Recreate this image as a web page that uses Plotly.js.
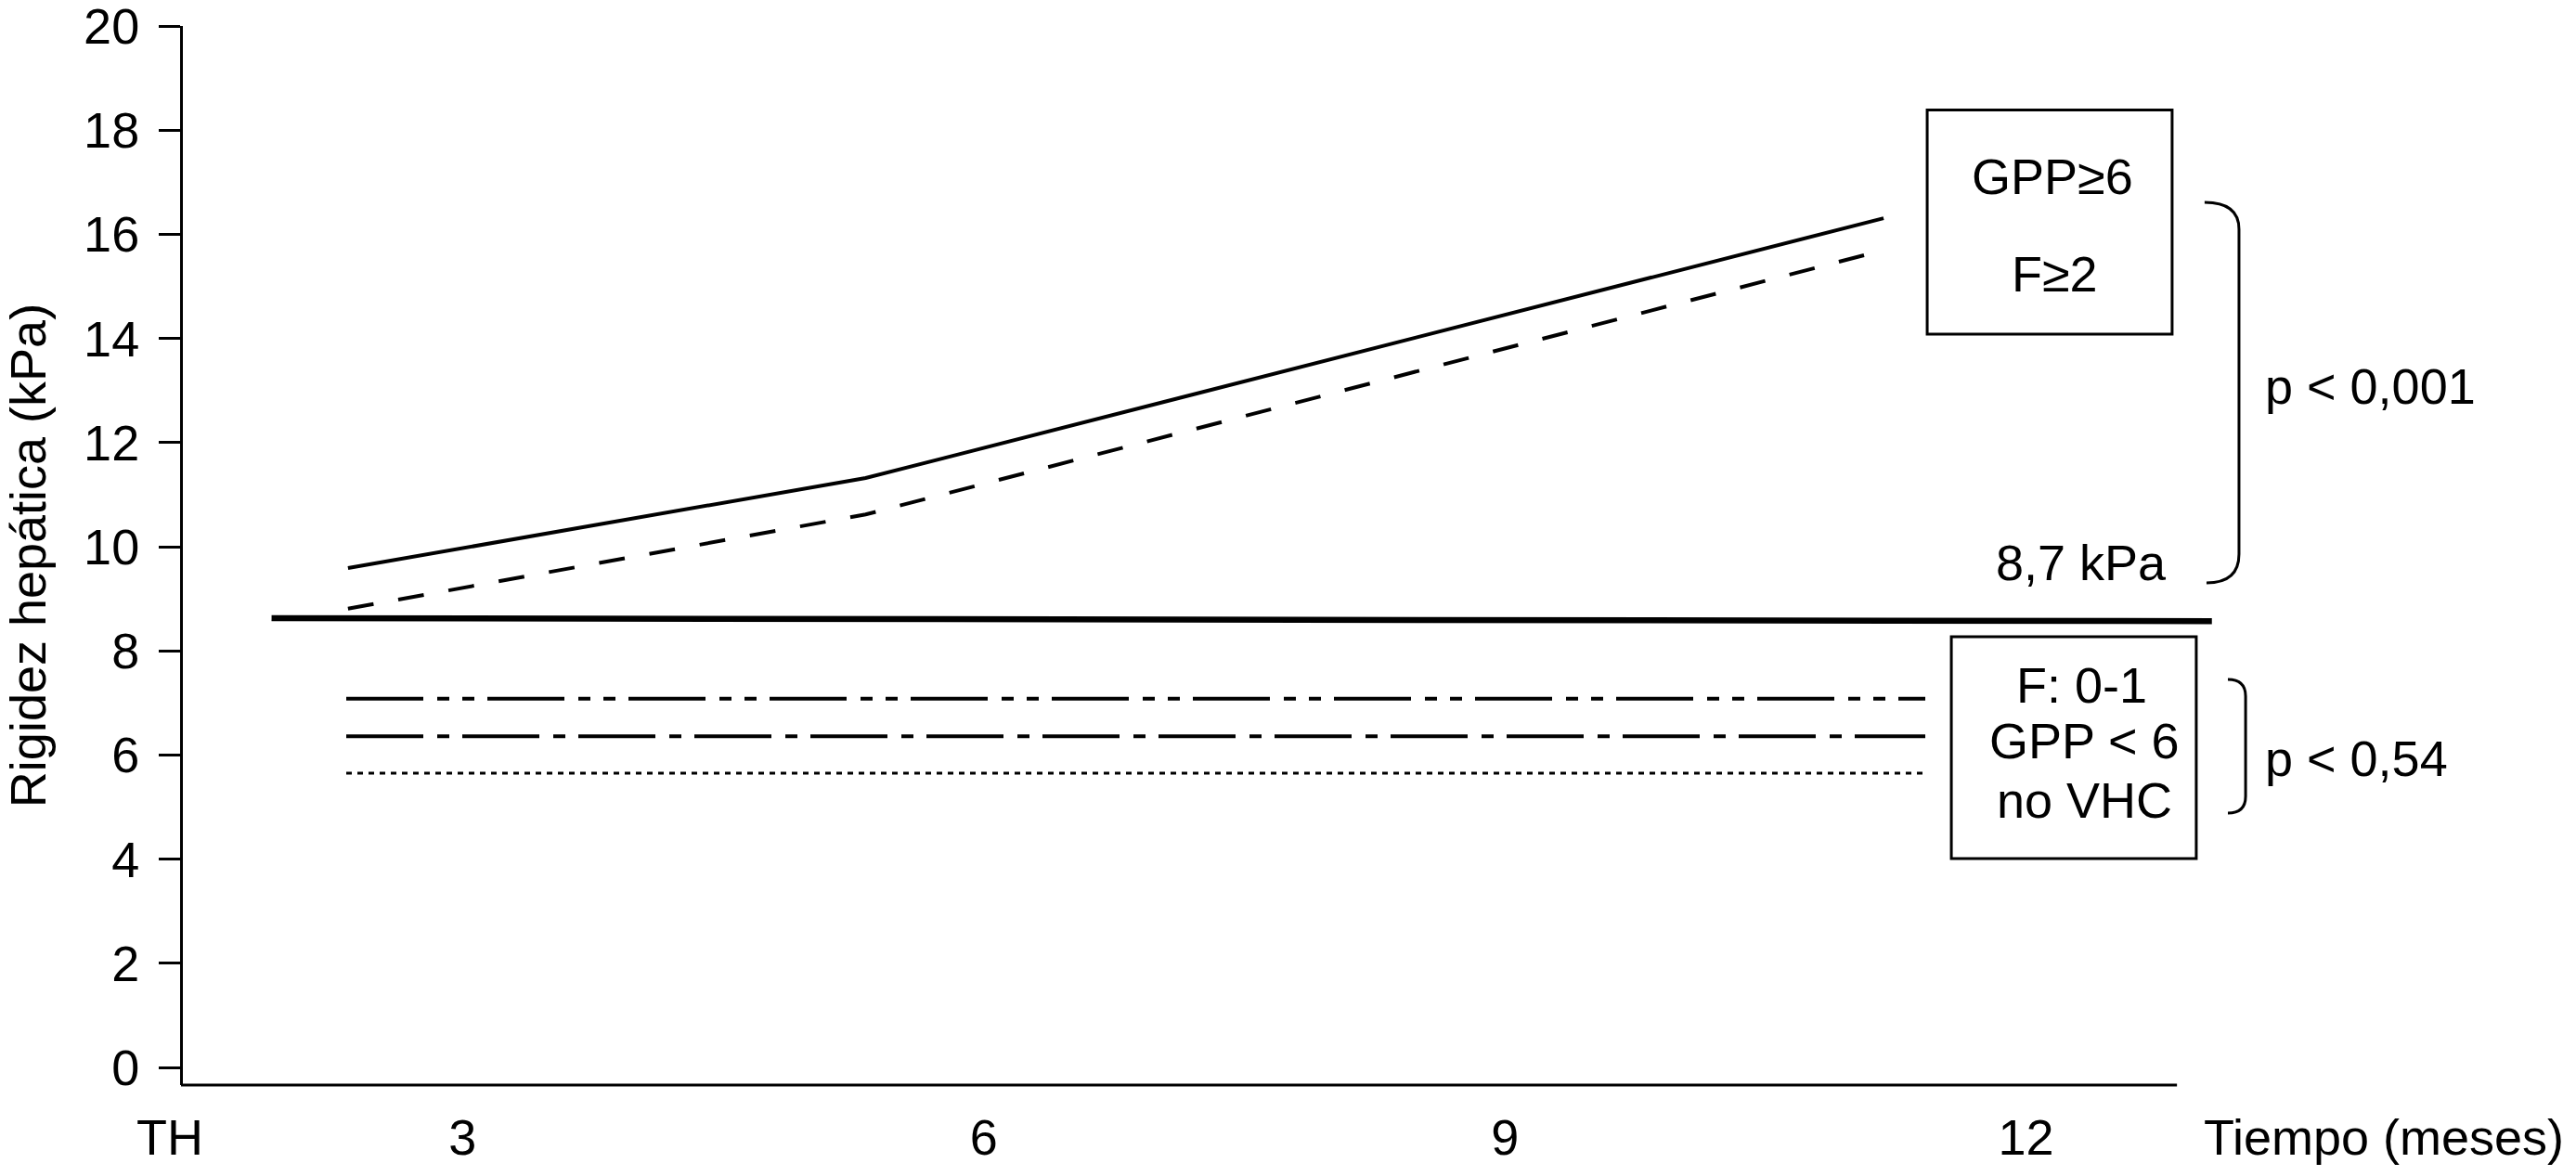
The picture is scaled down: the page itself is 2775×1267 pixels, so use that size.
<!DOCTYPE html>
<html>
<head>
<meta charset="utf-8">
<script src="https://cdn.plot.ly/plotly-3.0.1.min.js"></script>
<style>
  html, body { margin: 0; padding: 0; background: #ffffff; }
  #chart { width: 2775px; height: 1267px; }
</style>
</head>
<body>
<div id="chart"></div>
<script>
// values (x in months, y in kPa)
var tickPos = [1.315, 3, 6, 9, 12];
var tickText = ["TH", "3", "6", "9", "12"];

var highX = [2.34, 5.32, 11.18];
var highSolid = [9.59, 11.32, 16.31];
var highDashX = [2.34, 5.32, 11.15];
var highDash = [8.81, 10.62, 15.67];

var cutX = [1.90, 13.07];
var cutY = [8.63, 8.57];

var flatX = [2.33, 11.42];
var fLow = [7.08, 7.08];
var gppLow = [6.36, 6.36];
var noVhc = [5.65, 5.65];

var FONT = "Liberation Sans, Arial, sans-serif";

function line(x, y, width, dash) {
  return {
    type: "scatter",
    mode: "lines",
    x: x,
    y: y,
    line: {color: "#000000", width: width, dash: dash},
    hoverinfo: "skip",
    showlegend: false
  };
}

var traces = [
  line(highX, highSolid, 4, "solid"),
  line(highDashX, highDash, 4, "28px,27px"),
  line(cutX, cutY, 6.5, "solid"),
  line(flatX, fLow, 4, "83px,15px,13px,14px,13px,14px"),
  line(flatX, gppLow, 4, "83px,15px,13px,14px"),
  line(flatX, noVhc, 3, "6px,6px")
];

function txt(x, y, s, anchor) {
  return {
    x: x, y: y, xref: "x", yref: "y",
    text: s, showarrow: false,
    xanchor: anchor || "center", yanchor: "middle",
    font: {family: FONT, size: 54, color: "#000000"}
  };
}

var layout = {
  width: 2775,
  height: 1267,
  margin: {l: 150, r: 3, t: 28, b: 98},
  paper_bgcolor: "#ffffff",
  plot_bgcolor: "#ffffff",
  showlegend: false,
  font: {family: FONT, size: 54, color: "#000000"},
  xaxis: {
    range: [1.1383, 15.150],
    showgrid: false,
    zeroline: false,
    showline: false,
    ticks: "",
    tickmode: "array",
    tickvals: tickPos,
    ticktext: tickText,
    ticklabelstandoff: 20,
    tickfont: {family: FONT, size: 54, color: "#000000"}
  },
  yaxis: {
    range: [-0.3387, 20.002],
    anchor: "free",
    position: 0.01716,
    showgrid: false,
    zeroline: false,
    showline: true,
    linecolor: "#000000",
    linewidth: 3,
    ticks: "outside",
    ticklen: 23,
    tickwidth: 3,
    tickcolor: "#000000",
    tickmode: "linear",
    tick0: 0,
    dtick: 2,
    ticklabelstandoff: 10,
    ticklabeloverflow: "allow",
    tickfont: {family: FONT, size: 54, color: "#000000"},
    title: {
      text: "Rigidez hepática (kPa)",
      font: {family: FONT, size: 54, color: "#000000"},
      standoff: 40
    }
  },
  shapes: [
    // x axis line, stops short of the right edge
    {type: "line", xref: "paper", yref: "paper", x0: 0.01716, x1: 0.8372, y0: 0, y1: 0,
     line: {color: "#000000", width: 3}},
    // legend boxes
    {type: "rect", xref: "x", yref: "y", x0: 11.431, x1: 12.841, y0: 14.082, y1: 18.387,
     line: {color: "#000000", width: 3}},
    {type: "rect", xref: "x", yref: "y", x0: 11.570, x1: 12.980, y0: 4.011, y1: 8.271,
     line: {color: "#000000", width: 3}},
    // brackets
    {type: "path", xref: "x", yref: "y",
     path: "M 13.028 16.613 Q 13.226 16.613 13.226 16.096 L 13.226 9.857 Q 13.226 9.305 13.039 9.305",
     line: {color: "#000000", width: 3}},
    {type: "path", xref: "x", yref: "y",
     path: "M 13.162 7.451 Q 13.264 7.451 13.264 7.130 L 13.264 5.205 Q 13.264 4.884 13.162 4.884",
     line: {color: "#000000", width: 3}}
  ],
  annotations: [
    txt(12.152, 17.11, "GPP≥6"),
    txt(12.168, 15.24, "F≥2"),
    txt(12.32, 9.70, "8,7 kPa"),
    txt(13.366, 13.08, "p < 0,001", "left"),
    txt(12.318, 7.34, "F: 0-1"),
    txt(12.334, 6.27, "GPP < 6"),
    txt(12.334, 5.13, "no VHC"),
    txt(13.366, 5.94, "p < 0,54", "left"),
    {x: 13.01, y: -0.049, xref: "x", yref: "paper", text: "Tiempo (meses)", showarrow: false,
     xanchor: "left", yanchor: "middle",
     font: {family: FONT, size: 54, color: "#000000"}}
  ]
};

Plotly.newPlot("chart", traces, layout, {displayModeBar: false, staticPlot: true});
</script>
</body>
</html>
